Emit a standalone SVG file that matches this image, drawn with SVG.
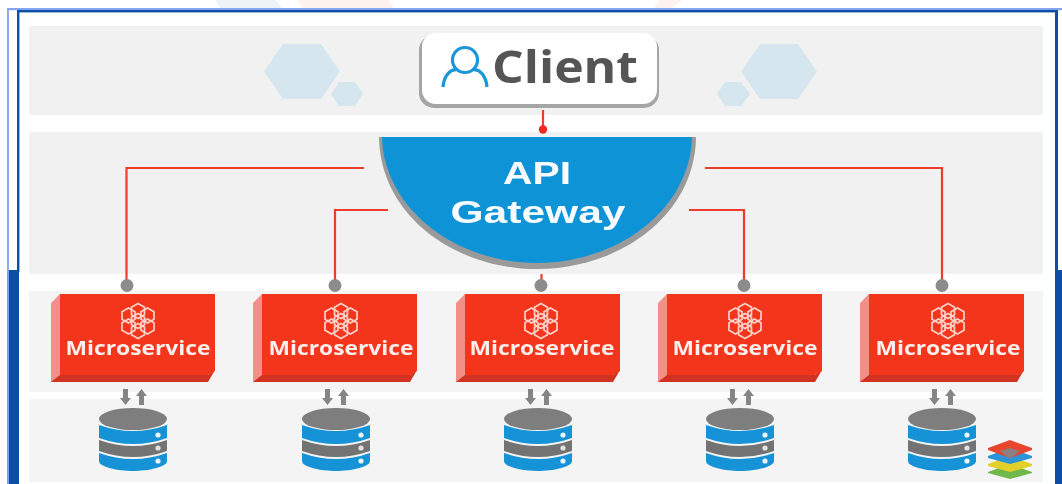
<svg xmlns="http://www.w3.org/2000/svg" xmlns:xlink="http://www.w3.org/1999/xlink" width="1062" height="484" viewBox="0 0 1062 484">
<style>
.band{fill:#f1f1f1}
.band2{fill:#f4f4f4}
.hex{fill:#d6e6ef}
.conn{fill:none;stroke:#ef3b2e;stroke-width:2.2}
.dot{fill:#8c8c8c}
.ms{font:700 20px "Open Sans","DejaVu Sans",sans-serif;fill:#fdf0ec;text-anchor:middle}
.gw{font:700 32px "Liberation Sans",Arial,sans-serif;fill:#f8fbfd;text-anchor:middle}
.ico{fill:none;stroke:#fbd3ca;stroke-width:1.700}
.arr{fill:#858585}
</style>
<defs>
<filter id="soft" x="0" y="0" width="100%" height="100%"><feGaussianBlur stdDeviation="0.55"/></filter>
<g id="msbox">
<path d="M0 9L9 0V88H0Z" fill="#f29088"/>
<path d="M0 88L9 81H157L164 76L157 88Z" fill="#d23322"/>
<path d="M9 0H164V77L157 81H9Z" fill="#f3341d"/>
</g>
<g id="cell">
<path d="M0 -7.500L6.500 -3.800V3.800L0 7.500L-6.500 3.800V-3.800Z"/>
</g>
<g id="msicon" class="ico">
<use xlink:href="#cell"/>
<use xlink:href="#cell" x="0" y="-10"/>
<use xlink:href="#cell" x="0" y="10"/>
<use xlink:href="#cell" x="-9.500" y="-5.500"/>
<use xlink:href="#cell" x="9.500" y="-5.500"/>
<use xlink:href="#cell" x="-9.500" y="5.500"/>
<use xlink:href="#cell" x="9.500" y="5.500"/>
</g>
<g id="db">
<path d="M-34 44Q0 56 34 44V52C34 58 15 62 0 62S-34 58 -34 52Z" fill="#1493d6"/>
<path d="M-34 31Q0 43 34 31V42Q0 54 -34 42Z" fill="#737373"/>
<path d="M-34 16Q0 28 34 16V29Q0 41 -34 29Z" fill="#1493d6"/>
<ellipse cx="0" cy="10" rx="34" ry="11" fill="#7e7e7e"/>
<circle cx="25" cy="26" r="2.600" fill="#eaf5fb"/><circle cx="25" cy="39" r="2.600" fill="#e2e2e2"/><circle cx="25" cy="52" r="2.600" fill="#eaf5fb"/>
</g>
<g id="updown">
<path d="M-13 0H-8V9H-5L-10.500 16L-16 9H-13Z" class="arr"/>
<path d="M3 16H8V7H11L5.500 0L0 7H3Z" class="arr"/>
</g>
</defs>
<rect width="1062" height="484" fill="#fff"/>
<g filter="url(#soft)">
<g id="frame">
<path d="M215 0H276L282 8H220Z" fill="#eef3f8"/>
<path d="M297 0H388L394 8H303Z" fill="#fdf2ee"/>
<path d="M660 0H682L672 8H654Z" fill="#fdf2ee"/>
<rect x="7" y="8" width="1055" height="2.200" fill="#82a5f3"/>
<rect x="7" y="8" width="2" height="262" fill="#8aaaf3"/>
<rect x="17" y="10" width="1041" height="2.400" fill="#0c4ea6"/>
<rect x="17" y="10" width="2.400" height="262" fill="#0c4ea6"/>
<rect x="1055" y="10" width="3" height="262" fill="#0c4ea6"/>
<rect x="7" y="270" width="12" height="214" fill="#0c4ea6"/>
<rect x="7" y="270" width="2" height="214" fill="#7ba0ee"/>
<rect x="1055" y="270" width="7" height="214" fill="#0c4ea6"/>
</g>
<g id="bands">
<rect class="band" x="29" y="26" width="1014" height="89"/>
<rect class="band" x="29" y="132" width="1014" height="142"/>
<rect class="band2" x="29" y="291" width="1014" height="101"/>
<rect class="band2" x="29" y="399" width="1014" height="83"/>
<path class="hex" d="M283 44H321L340 71.500L321 99H283L264 71.500Z"/>
<path class="hex" d="M339 82H355L363 94L355 106H339L331 94Z"/>
<path class="hex" d="M760 44H798L817 71.500L798 99H760L741 71.500Z"/>
<path class="hex" d="M725 82H741L750 94L741 106H725L717 94Z"/>
</g>
<g id="connectors">
<path class="conn" d="M543 110V128"/><circle cx="543" cy="129.500" r="4.200" fill="#ee2a20"/>
<path class="conn" d="M364 168H126.500V282"/>
<path class="conn" d="M388 210H335V282"/>
<path class="conn" d="M541.500 274V282"/>
<path class="conn" d="M689 210H744V282"/>
<path class="conn" d="M705 168H942V282"/>
<circle class="dot" cx="127" cy="285.500" r="6.500"/>
<circle class="dot" cx="335" cy="285.500" r="6.500"/>
<circle class="dot" cx="541" cy="285.500" r="6.500"/>
<circle class="dot" cx="744" cy="285.500" r="6.500"/>
<circle class="dot" cx="942" cy="285.500" r="6.500"/>
</g>
<g id="client">
<rect x="419" y="35" width="240" height="73" rx="15" fill="#a5a5a5"/>
<rect x="422" y="33" width="235" height="71" rx="14" fill="#fff"/>
<g fill="none" stroke="#1a96d6" stroke-width="3.200">
<circle cx="465" cy="60" r="12.500"/>
<path d="M443 87C444 75 451 69 456 70M487 87C486 75 479 69 474 70"/>
</g>
<text x="565" y="83" font-family="'Open Sans','DejaVu Sans',sans-serif" font-weight="700" font-size="44" fill="#555" text-anchor="middle" textLength="146" lengthAdjust="spacingAndGlyphs">Client</text>
</g>
<g id="gateway">
<path d="M379 137H696C695 215 620 269 537 269S380 215 379 137Z" fill="#9a9a9a"/>
<path d="M382 137H692C690 210 617 263 537 263S384 210 382 137Z" fill="#1093d6"/>
<text class="gw" x="537" y="184" textLength="68" lengthAdjust="spacingAndGlyphs">API</text>
<text class="gw" x="538" y="223" textLength="175" lengthAdjust="spacingAndGlyphs">Gateway</text>
</g>
<g id="ms1"><use xlink:href="#msbox" x="51" y="294"/><use xlink:href="#msicon" x="138" y="321"/><text class="ms" x="138" y="355" textLength="145" lengthAdjust="spacingAndGlyphs">Microservice</text></g>
<g id="ms2"><use xlink:href="#msbox" x="253" y="294"/><use xlink:href="#msicon" x="341" y="321"/><text class="ms" x="341" y="355" textLength="145" lengthAdjust="spacingAndGlyphs">Microservice</text></g>
<g id="ms3"><use xlink:href="#msbox" x="456" y="294"/><use xlink:href="#msicon" x="541" y="321"/><text class="ms" x="542" y="355" textLength="145" lengthAdjust="spacingAndGlyphs">Microservice</text></g>
<g id="ms4"><use xlink:href="#msbox" x="658" y="294"/><use xlink:href="#msicon" x="745" y="321"/><text class="ms" x="745" y="355" textLength="145" lengthAdjust="spacingAndGlyphs">Microservice</text></g>
<g id="ms5"><use xlink:href="#msbox" x="860" y="294"/><use xlink:href="#msicon" x="948" y="321"/><text class="ms" x="948" y="355" textLength="145" lengthAdjust="spacingAndGlyphs">Microservice</text></g>
<g id="db1"><use xlink:href="#updown" x="136" y="389"/><use xlink:href="#db" x="133" y="409"/></g>
<g id="db2"><use xlink:href="#updown" x="338" y="389"/><use xlink:href="#db" x="336" y="409"/></g>
<g id="db3"><use xlink:href="#updown" x="541" y="389"/><use xlink:href="#db" x="538" y="409"/></g>
<g id="db4"><use xlink:href="#updown" x="743" y="389"/><use xlink:href="#db" x="740" y="409"/></g>
<g id="db5"><use xlink:href="#updown" x="945" y="389"/><use xlink:href="#db" x="942" y="409"/></g>
<g id="layers">
<path d="M988 472L1010 464L1032 472V473L1010 479L988 473Z" fill="#6fb84a"/>
<path d="M988 464L1010 456L1032 464V466L1010 472L988 466Z" fill="#e3cf2a"/>
<path d="M988 456L1010 448L1032 456V458L1010 464L988 458Z" fill="#2a94d6"/>
<path d="M988 448L1010 440L1032 448V450L1010 458L988 450Z" fill="#e8442e"/>
<path d="M1000 451L1010 448L1020 451L1010 459Z" fill="#8d7f7f"/>
</g>
</g>
</svg>
